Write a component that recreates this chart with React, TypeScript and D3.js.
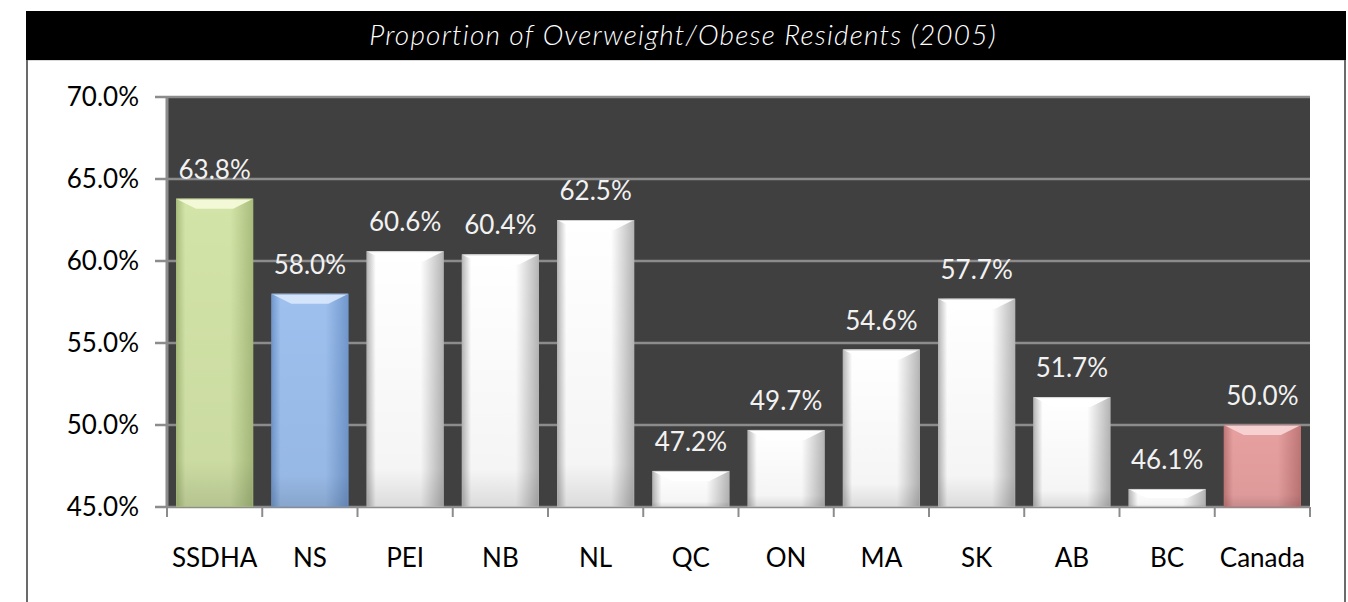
import React from "react";
import { scaleBand, scaleLinear, range } from "d3";

const categories = ["SSDHA", "NS", "PEI", "NB", "NL", "QC", "ON", "MA", "SK", "AB", "BC", "Canada"];
const values = [63.8, 58.0, 60.6, 60.4, 62.5, 47.2, 49.7, 54.6, 57.7, 51.7, 46.1, 50.0];
const yTicks = [45, 50, 55, 60, 65, 70];
const title = "Proportion of Overweight/Obese Residents (2005)";

// colour scheme per bar: [edge, mid, bevel]
const palettes: Record<string, [string, string, string]> = {
  green: ["#a9bd7c", "#d3e4a8", "#f4fad9"],
  blue: ["#7197cc", "#9dc0ee", "#d6e6fb"],
  pink: ["#bf7676", "#e7a0a0", "#f8d4d4"],
  white: ["#b5b5b5", "#ffffff", "#ffffff"],
};
const barPalette = (c: string) =>
  c === "SSDHA" ? "green" : c === "NS" ? "blue" : c === "Canada" ? "pink" : "white";

const W = 1348;
const H = 602;
const left = 167;
const right = 1310;
const top = 97;
const bottom = 507;
const font = "Lato, 'Noto Sans', sans-serif";

export default function App() {
  const x = scaleBand<string>().domain(categories).range([left, right]).paddingInner(0.19).paddingOuter(0.095);
  const y = scaleLinear().domain([45, 70]).range([bottom, top]);
  const bw = x.bandwidth();
  const step = x.step();

  return (
    <svg width={W} height={H} style={{ position: "absolute", left: 0, top: 0, background: "#fff" }}>
      <defs>
        {Object.entries(palettes).map(([k, [edge, mid]]) => (
          <linearGradient key={k} id={"g-" + k} x1="0" x2="1" y1="0" y2="0">
            <stop offset="0%" stopColor={edge} />
            <stop offset="12%" stopColor={mid} />
            <stop offset="70%" stopColor={mid} />
            <stop offset="100%" stopColor={edge} />
          </linearGradient>
        ))}
        <linearGradient id="shade" x1="0" x2="0" y1="0" y2="1">
          <stop offset="0%" stopColor="#000" stopOpacity={0} />
          <stop offset="85%" stopColor="#000" stopOpacity={0.04} />
          <stop offset="100%" stopColor="#000" stopOpacity={0.14} />
        </linearGradient>
      </defs>

      {/* frame */}
      <rect x={26} y={11} width={1320} height={49} fill="#000" />
      <line x1={26} x2={1346} y1={60.5} y2={60.5} stroke="#d9d9d9" strokeWidth={1} />
      <line x1={27} x2={27} y1={60} y2={H} stroke="#6b6b6b" strokeWidth={2} />
      <line x1={1345} x2={1345} y1={60} y2={H} stroke="#6b6b6b" strokeWidth={2} />
      <text
        x={683}
        y={45}
        textAnchor="middle"
        fill="#fff"
        fontFamily={font}
        fontStyle="italic"
        fontWeight={300}
        fontSize={28}
        letterSpacing={1.2}
      >
        {title}
      </text>

      {/* plot area */}
      <rect x={left} y={top} width={right - left} height={bottom - top} fill="#404040" />
      {yTicks.map((t) => (
        <g key={t}>
          <line x1={155} x2={right} y1={y(t)} y2={y(t)} stroke="#8c8c8c" strokeWidth={2.5} />
          <text x={139} y={y(t) + 9} textAnchor="end" fontFamily={font} fontSize={26} fill="#000">
            {t.toFixed(1) + "%"}
          </text>
        </g>
      ))}
      <line x1={left} x2={left} y1={top - 1} y2={bottom + 1} stroke="#8c8c8c" strokeWidth={3} />
      {range(categories.length + 1).map((i) => (
        <line
          key={i}
          x1={left + i * step}
          x2={left + i * step}
          y1={bottom}
          y2={bottom + 10}
          stroke="#8c8c8c"
          strokeWidth={2}
        />
      ))}

      {/* bars */}
      {categories.map((c, i) => {
        const bx = x(c)!;
        const by = y(values[i]);
        const bh = bottom - by;
        const p = barPalette(c);
        const [edge, , bevel] = palettes[p];
        const b = Math.min(10, bh / 2);
        return (
          <g key={c}>
            <rect x={bx} y={by} width={bw} height={bh} fill={`url(#g-${p})`} />
            <rect x={bx} y={by} width={bw} height={bh} fill="url(#shade)" />
            <polygon
              points={`${bx},${by} ${bx + bw},${by} ${bx + bw - b * 2},${by + b} ${bx + b * 2},${by + b}`}
              fill={bevel}
              opacity={0.95}
            />
            <rect x={bx + 0.5} y={by + 0.5} width={bw - 1} height={bh - 1} fill="none" stroke={edge} strokeOpacity={0.6} />
            <text
              x={bx + bw / 2}
              y={by - 20}
              textAnchor="middle"
              fontFamily={font}
              fontSize={26}
              fill="#f2f2f2"
            >
              {values[i].toFixed(1) + "%"}
            </text>
            <text x={bx + bw / 2} y={567} textAnchor="middle" fontFamily={font} fontSize={26} fill="#000">
              {c}
            </text>
          </g>
        );
      })}
    </svg>
  );
}
